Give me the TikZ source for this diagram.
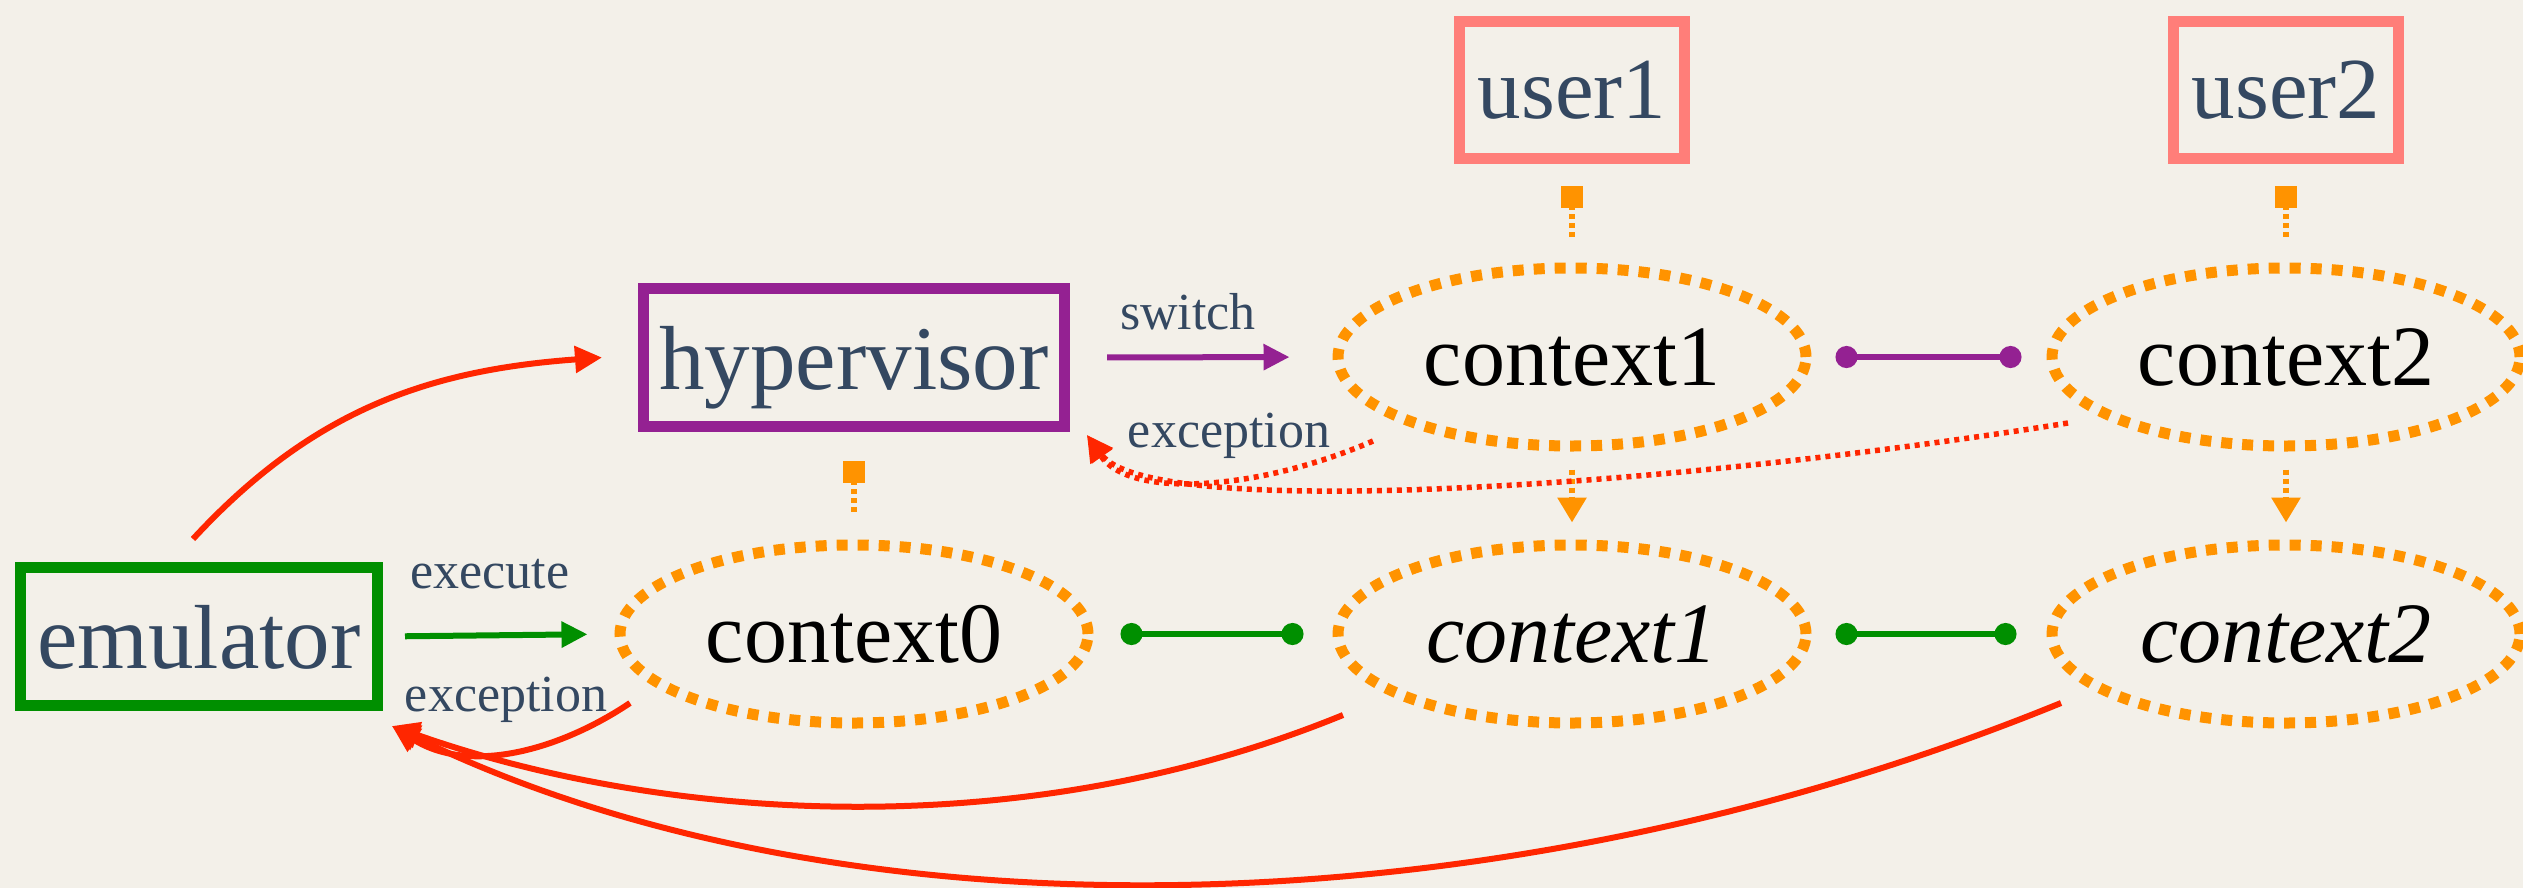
\documentclass[tikz,border=0pt]{standalone}
\usepackage{fontspec}
\setmainfont{Liberation Serif}
\usetikzlibrary{arrows.meta,shapes.geometric}
\definecolor{clover}{RGB}{0,143,0}
\definecolor{plum}{RGB}{148,33,146}
\definecolor{salmon}{RGB}{255,126,121}
\definecolor{tangerine}{RGB}{255,147,0}
\definecolor{marasch}{RGB}{255,38,0}
\definecolor{ink}{RGB}{52,72,97}
\definecolor{paper}{RGB}{243,240,233}
\begin{document}
\begin{tikzpicture}[x=1pt,y=1pt,
  box/.style={draw,rectangle,line width=11pt,inner sep=0pt,text depth=0pt,text=ink,font=\fontsize{91}{100}\selectfont},
  ctx/.style={draw=tangerine,ellipse,line width=11pt,dash pattern=on 11pt off 10pt,minimum width=468pt,minimum height=178pt,inner sep=0pt,text depth=0pt,text=black,font=\fontsize{86}{90}\selectfont},
  lbl/.style={anchor=base,text=ink,font=\fontsize{52}{60}\selectfont,inner sep=0pt},
  garrow/.style={draw=clover,line width=6pt,-{Triangle[length=26pt,width=25pt]}},
  parrow/.style={draw=plum,line width=6pt,-{Triangle[length=26pt,width=25pt]}},
  gdots/.style={draw=clover,line width=6pt,{Circle[length=22pt]}-{Circle[length=22pt]}},
  pdots/.style={draw=plum,line width=6pt,{Circle[length=22pt]}-{Circle[length=22pt]}},
  osq/.style={draw=tangerine,line width=6pt,dash pattern=on 5pt off 4pt,{Square[length=22pt,width=22pt]}-},
  oarrow/.style={draw=tangerine,line width=6pt,dash pattern=on 5pt off 4pt,-{Triangle[length=25pt,width=28pt]}},
  rarrow/.style={draw=marasch,line width=6pt,-{Triangle[length=27pt,width=26pt]}},
  rdots/.style={draw=marasch,line width=5.5pt,dash pattern=on 5pt off 5pt,-{Triangle[length=26pt,width=25pt]}}
]
\fill[paper] (0,0) rectangle (2523,-888);
\useasboundingbox (0,0) rectangle (2523,-888);

% nodes
\node[box,draw=clover,minimum width=357pt,minimum height=138pt] (emu) at (199,-636.5) {emulator};
\node[box,draw=plum,minimum width=421pt,minimum height=138pt] (hyp) at (854,-357.5) {hypervisor};
\node[box,draw=salmon,minimum width=225pt,minimum height=137pt,font=\fontsize{87}{95}\selectfont] (u1) at (1572,-90) {user1};
\node[box,draw=salmon,minimum width=225pt,minimum height=137pt,font=\fontsize{87}{95}\selectfont] (u2) at (2286,-90) {user2};
\node[ctx] (c1t) at (1572,-357) {context1};
\node[ctx] (c2t) at (2286,-357) {context2};
\node[ctx] (c0) at (854,-634) {context0};
\node[ctx] (c1b) at (1572,-634) {\itshape context1};
\node[ctx] (c2b) at (2286,-634) {\itshape context2};

% labels
\node[lbl] (lexec) at (490,-588) {execute};
\node[lbl] (lexc0) at (506,-711) {exception};
\node[lbl] (lexc1) at (1229,-447) {exception};
\node[lbl] (lsw) at (1188,-329) {switch};

% straight connectors
\draw[garrow,shorten <=22pt,shorten >=27pt] (emu.east) -- (c0.west);
\draw[parrow,shorten <=37pt,shorten >=43pt] (hyp.east) -- (c1t.west);
\draw[gdots,shorten <=27pt,shorten >=29pt] (c0.east) -- (c1b.west);
\draw[gdots,shorten <=24pt,shorten >=30pt] (c1b.east) -- (c2b.west);
\draw[pdots,shorten <=24pt,shorten >=25pt] (c1t.east) -- (c2t.west);

% orange dotted
\draw[osq,shorten <=29pt,shorten >=26pt] (hyp.south) -- (c0.north);
\draw[osq,shorten <=22pt,shorten >=23pt] (u1.south) -- (c1t.north);
\draw[osq,shorten <=22pt,shorten >=23pt] (u2.south) -- (c2t.north);
\draw[oarrow,shorten <=18pt,shorten >=17pt] (c1t.south) -- (c1b.north);
\draw[oarrow,shorten <=18pt,shorten >=17pt] (c2t.south) -- (c2b.north);

% red solid
\draw[rarrow] ([shift={(-6pt,23pt)}]emu.north) .. controls (313,-409) and (430,-370) .. ([xshift=-36pt]hyp.west);
\draw[rarrow] ([shift={(-224pt,-69pt)}]c0.center) .. controls (560,-750) and (470,-775) .. ([shift={(9pt,-15pt)}]emu.south east);
\draw[rarrow] ([shift={(-229pt,-81pt)}]c1b.center) .. controls (1013,-850) and (652,-818) .. ([shift={(9pt,-15pt)}]emu.south east);
\draw[rarrow] ([shift={(-225pt,-69pt)}]c2b.center) .. controls (1480,-940) and (830,-940) .. ([shift={(9pt,-15pt)}]emu.south east);

% red dotted
\draw[rdots] ([shift={(-199pt,-84pt)}]c1t.center) .. controls (1260,-490) and (1130,-500) .. ([shift={(17pt,-3pt)}]hyp.south east);
\draw[rdots] ([shift={(-218pt,-66pt)}]c2t.center) .. controls (1650,-490) and (1150,-520) .. ([shift={(17pt,-3pt)}]hyp.south east);
\end{tikzpicture}
\end{document}
